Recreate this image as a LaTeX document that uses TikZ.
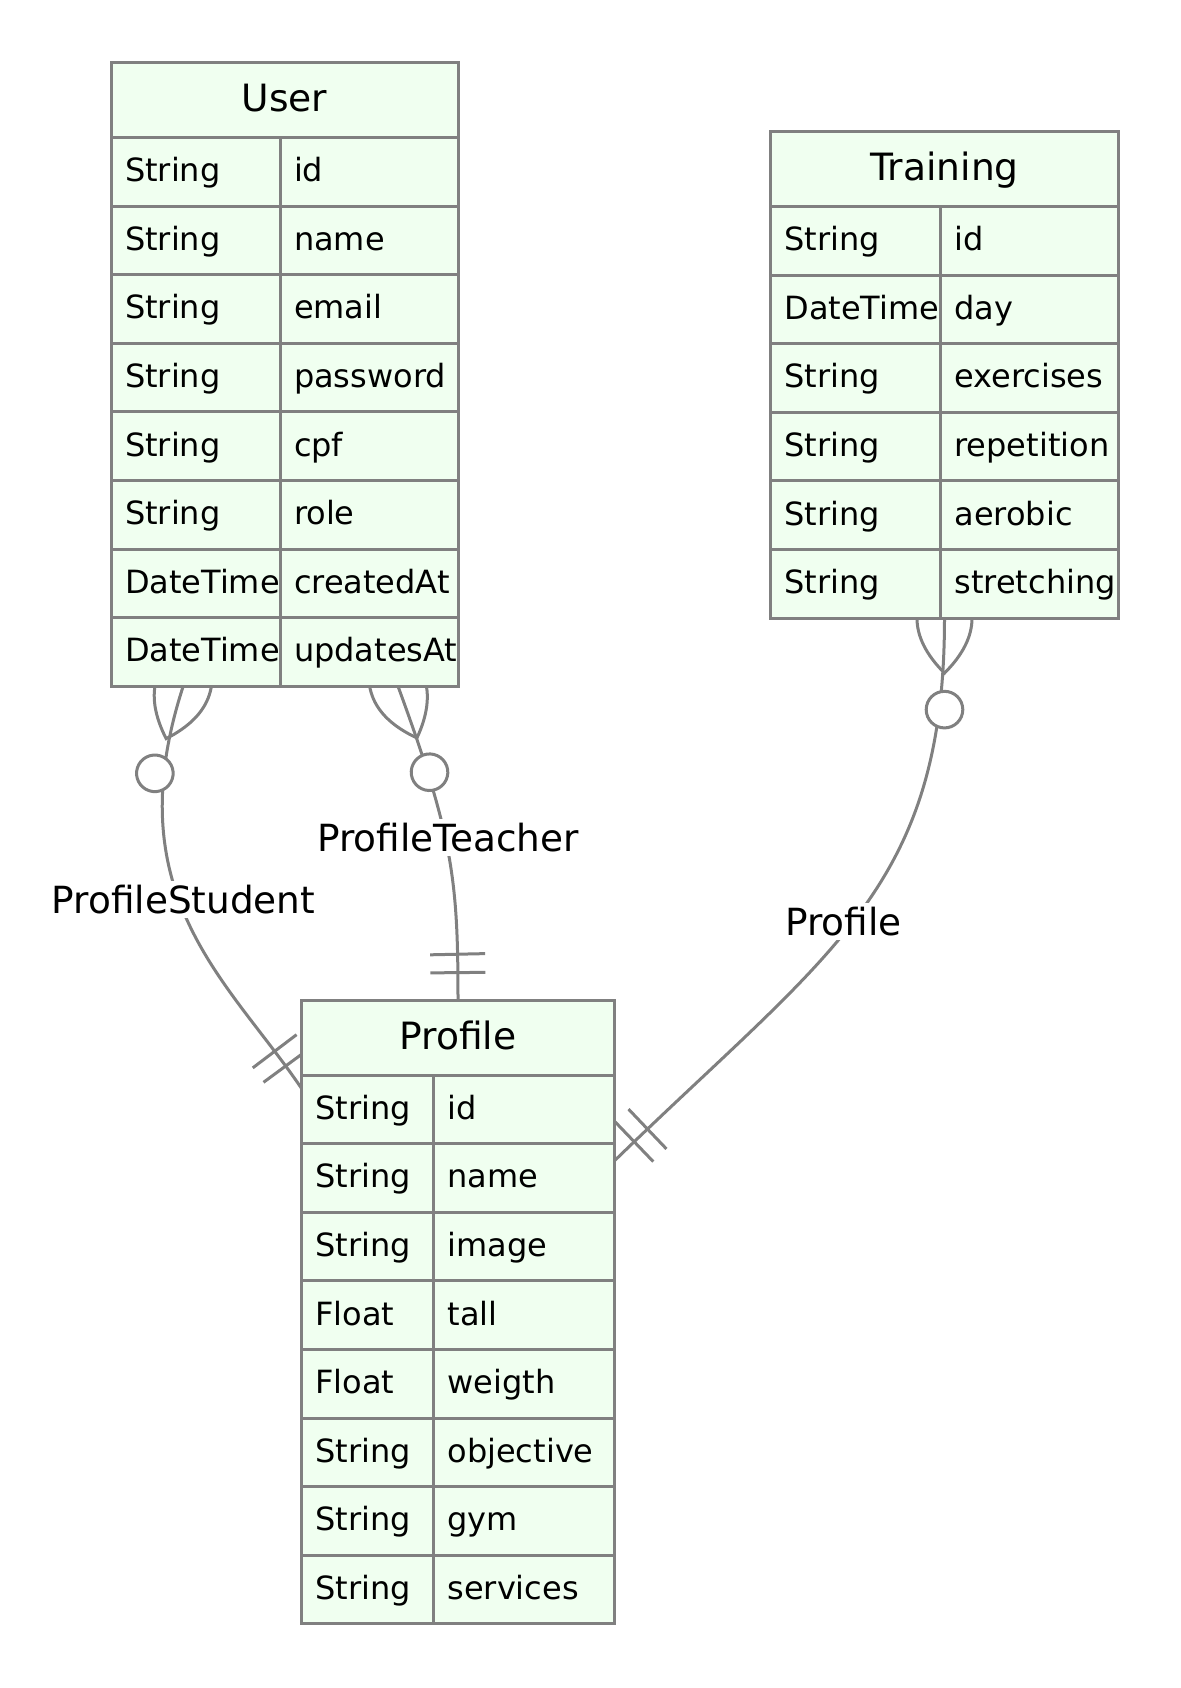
\documentclass[tikz,border=0pt]{standalone}
\usepackage{fontspec}
\setmainfont{DejaVu Sans}
\usetikzlibrary{fit,decorations.markings}
\definecolor{erline}{HTML}{808080}
\definecolor{erfill}{HTML}{F0FFF0}
\pgfdeclarelayer{back}
\pgfsetlayers{back,main}
\tikzset{
  erbox/.style={draw=erline, fill=erfill, line width=1.5pt, inner sep=0pt, outer sep=0pt},
  erhead/.style={erbox, minimum height=37.5pt, align=center, font=\fontsize{18.8}{22}\selectfont, text height=14pt, text depth=2.3pt},
  ercell/.style={erbox, minimum height=34.3pt, inner xsep=7pt, align=left, font=\fontsize{16}{19}\selectfont, text height=12pt, text depth=2.1pt},
  erfit/.style={inner sep=0pt, outer sep=0pt},
  rel/.style={draw=erline, line width=1.5pt},
  rellabel/.style={fill=white, inner sep=2pt, anchor=base, font=\fontsize{18.7}{22}\selectfont},
  zeromany/.style={postaction={decorate, decoration={markings, mark=at position 0pt with {
      \draw[rel] (-55,0) .. controls (-18.3,-36.7) and (18.3,-36.7) .. (55,0)
        .. controls (18.3,36.7) and (-18.3,36.7) .. cycle;
      \draw[rel, fill=white] (91.5,0) circle[radius=9.15pt];}}}},
  onlyone/.style={postaction={decorate, decoration={markings,
      mark=at position -13.7pt with {\draw[rel] (0,-27.5) -- (0,27.5);},
      mark=at position -22.9pt with {\draw[rel] (0,-27.5) -- (0,27.5);}}}}
}

\begin{document}
\begin{tikzpicture}[x=0.5pt, y=-0.5pt]
\useasboundingbox (0,0) rectangle (1180,1688);

% entities
\node[erhead, minimum width=173.5pt, anchor=north west] (user-h) at (111,62.5) {User};
\foreach \ftype/\fname [count=\i] in {String/id, String/name, String/email, String/password, String/cpf, String/role, DateTime/createdAt, DateTime/updatesAt} {
  \node[ercell, text width=70.5pt, anchor=north west] (user-t\i) at (111,{137.5+68.6*(\i-1)}) {\ftype};
  \node[ercell, text width=75pt, anchor=north west] (user-n\i) at (280,{137.5+68.6*(\i-1)}) {\fname};
}
\node[erfit, fit=(user-h)(user-t8)(user-n8)] (user) {};

\node[erhead, minimum width=174pt, anchor=north west] (training-h) at (770.5,131.5) {Training};
\foreach \ftype/\fname [count=\i] in {String/id, DateTime/day, String/exercises, String/repetition, String/aerobic, String/stretching} {
  \node[ercell, text width=71pt, anchor=north west] (training-t\i) at (770.5,{206.5+68.6*(\i-1)}) {\ftype};
  \node[ercell, text width=75pt, anchor=north west] (training-n\i) at (940.5,{206.5+68.6*(\i-1)}) {\fname};
}
\node[erfit, fit=(training-h)(training-t6)(training-n6)] (training) {};

\node[erhead, minimum width=156.5pt, anchor=north west] (profile-h) at (301.5,1000) {Profile};
\foreach \ftype/\fname [count=\i] in {String/id, String/name, String/image, Float/tall, Float/weigth, String/objective, String/gym, String/services} {
  \node[ercell, text width=52pt, anchor=north west] (profile-t\i) at (301.5,{1075+68.6*(\i-1)}) {\ftype};
  \node[ercell, text width=76.5pt, anchor=north west] (profile-n\i) at (433.5,{1075+68.6*(\i-1)}) {\fname};
}
\node[erfit, fit=(profile-h)(profile-t8)(profile-n8)] (profile) {};

% relationships
\begin{pgfonlayer}{back}
\draw[rel, zeromany, onlyone] (user.-108) .. controls +(-68,209) and +(-73,-108) .. (profile.125);
\draw[rel, zeromany, onlyone] (user.-70) .. controls +(55,150) and +(0,-120) .. (profile.north);
\draw[rel, zeromany, onlyone] (training.south) .. controls +(0,270) and +(216,-210) .. (profile.44);
\end{pgfonlayer}

\node[rellabel] (lbl-student) at (183.5,913) {ProfileStudent};
\node[rellabel] (lbl-teacher) at (448,851) {ProfileTeacher};
\node[rellabel] (lbl-profile) at (843.5,935) {Profile};
\end{tikzpicture}
\end{document}
